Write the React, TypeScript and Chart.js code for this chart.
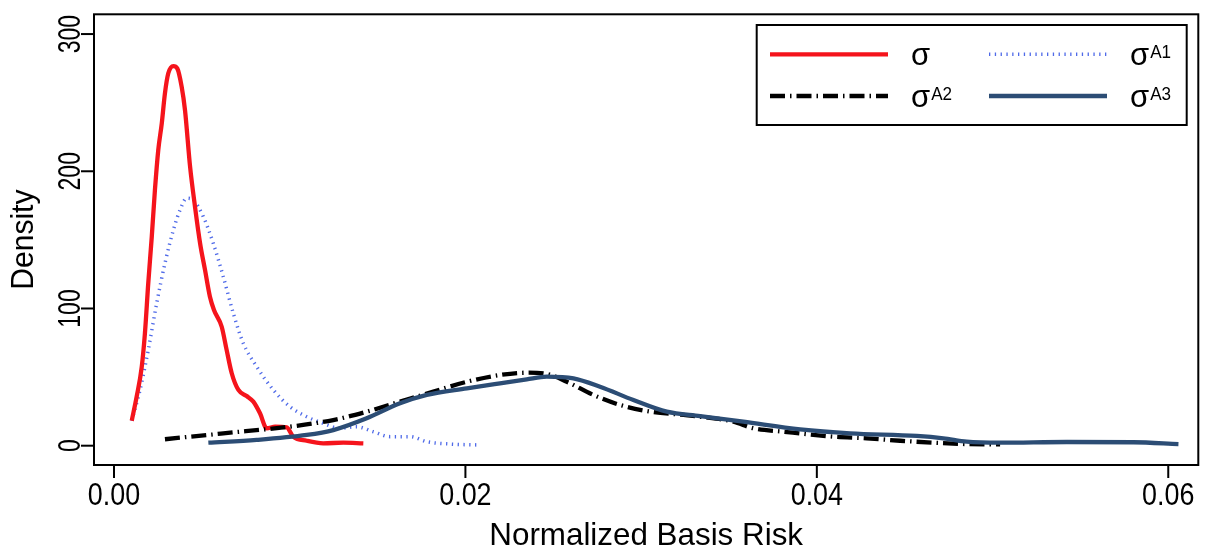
import React, { useEffect, useRef } from "react";
import { Chart, registerables } from "chart.js";

Chart.register(...registerables);

// ---------- data ----------
const xTicks = [0, 0.02, 0.04, 0.06];
const xTickLabels = ["0.00", "0.02", "0.04", "0.06"];
const yTicks = [0, 100, 200, 300];
const yTickLabels = ["0", "100", "200", "300"];

const xTitle = "Normalized Basis Risk";
const yTitle = "Density";

const seriesBase = ["σ", "σ", "σ", "σ"];
const seriesSup = ["", "A1", "A2", "A3"];

const sigmaX = [0.00101, 0.00129, 0.00158, 0.00176, 0.00195, 0.00215, 0.00233, 0.00252, 0.00272, 0.0029, 0.00309, 0.00338, 0.0036, 0.00385, 0.00404, 0.00433, 0.00461, 0.0049, 0.00518, 0.00546, 0.00569, 0.00613, 0.00641, 0.0067, 0.00708, 0.00755, 0.00793, 0.00831, 0.00869, 0.00917, 0.00983, 0.0102, 0.01097, 0.01191, 0.01305, 0.01419];
const sigmaY = [18.2, 35.7, 57.6, 81.9, 118.4, 152.3, 186.4, 215.5, 235, 256.9, 271.4, 276.7, 275, 261.7, 244.7, 203.4, 174.2, 147.5, 128.1, 108.6, 98.9, 86.7, 69.8, 52.8, 40.6, 36.2, 32.1, 23.6, 12.7, 13.9, 13.4, 6.6, 3.6, 1.7, 2.2, 1.7];

const sigmaA1X = [0.00101, 0.00148, 0.00195, 0.00243, 0.0029, 0.00338, 0.00376, 0.00414, 0.00451, 0.00508, 0.00565, 0.00622, 0.00679, 0.00736, 0.00812, 0.00907, 0.01002, 0.01097, 0.01191, 0.01286, 0.01381, 0.01476, 0.01571, 0.01685, 0.0178, 0.01913, 0.02083];
const sigmaA1Y = [18.2, 40.6, 69.8, 103.8, 132.9, 157.2, 171.8, 180.3, 179, 167, 147.5, 123.2, 96.5, 74.6, 57.6, 40.6, 28.4, 21.1, 16.3, 12.7, 13.8, 10.2, 6.6, 6.6, 2.9, 1.2, 0.5];

const sigmaA2X = [0.0029, 0.00622, 0.01002, 0.01248, 0.01438, 0.01628, 0.01818, 0.02008, 0.02197, 0.02349, 0.02463, 0.02577, 0.02728, 0.0288, 0.03051, 0.03241, 0.03336, 0.03525, 0.03639, 0.0381, 0.04094, 0.04284, 0.04474, 0.04664, 0.04853, 0.05043];
const sigmaA2Y = [4.7, 9, 13.9, 18.7, 24.8, 32.1, 39.4, 46.6, 51.5, 53.2, 52.3, 46.6, 37, 29.7, 24.8, 22.4, 21.1, 17.5, 12.7, 10.2, 6.6, 5.4, 3.6, 2.2, 1.2, 1.0];

const sigmaA3X = [0.00537, 0.00812, 0.01097, 0.01248, 0.01438, 0.01628, 0.0178, 0.02008, 0.02197, 0.02349, 0.02463, 0.02615, 0.02766, 0.02956, 0.03146, 0.03336, 0.03582, 0.03905, 0.04189, 0.04569, 0.0472, 0.04853, 0.05043, 0.05423, 0.05802, 0.06058];
const sigmaA3Y = [2.2, 4.2, 7.8, 11.4, 20, 30.9, 37, 41.8, 45.5, 48.4, 50.3, 49.1, 43, 33.3, 24.8, 21.6, 17.5, 11.9, 9, 7.1, 5.4, 2.9, 2.2, 2.7, 2.5, 1.2];

const X_MIN = -0.001138;
const X_MAX = 0.06171;
const Y_MIN = -14.07;
const Y_MAX = 314.4;

const FONT = '"Liberation Sans", Arial, Helvetica, sans-serif';

const pts = (xs: number[], ys: number[]) => xs.map((x, i) => ({ x, y: ys[i] }));

function drawText(
  ctx: CanvasRenderingContext2D,
  s: string,
  x: number,
  y: number,
  size: number,
  sx: number,
  align: CanvasTextAlign,
  rot = 0
) {
  ctx.save();
  ctx.translate(x, y);
  if (rot) ctx.rotate(rot);
  ctx.scale(sx, 1);
  ctx.font = `${size}px ${FONT}`;
  ctx.textAlign = align;
  ctx.textBaseline = "alphabetic";
  ctx.fillStyle = "#000";
  ctx.fillText(s, 0, 0);
  ctx.restore();
}

const rAxesPlugin = {
  id: "rAxes",
  afterDatasetsDraw(chart: any) {
    const { ctx, chartArea: a, scales } = chart;
    ctx.save();
    ctx.setLineDash([]);
    ctx.strokeStyle = "#000";
    ctx.fillStyle = "#000";

    // box
    ctx.lineWidth = 2;
    ctx.strokeRect(a.left, a.top, a.right - a.left, a.bottom - a.top);

    // x ticks
    ctx.lineWidth = 2;
    xTicks.forEach((v, i) => {
      const px = scales.x.getPixelForValue(v);
      ctx.beginPath();
      ctx.moveTo(px, a.bottom);
      ctx.lineTo(px, a.bottom + 13);
      ctx.stroke();
      drawText(ctx, xTickLabels[i], px, a.bottom + 40, 32, 0.84, "center");
    });

    // y ticks
    yTicks.forEach((v, i) => {
      const py = scales.y.getPixelForValue(v);
      ctx.beginPath();
      ctx.moveTo(a.left - 13, py);
      ctx.lineTo(a.left, py);
      ctx.stroke();
      drawText(ctx, yTickLabels[i], a.left - 14, py, 32, 0.72, "center", -Math.PI / 2);
    });

    // titles
    drawText(ctx, xTitle, (a.left + a.right) / 2, a.bottom + 80, 32, 0.98, "center");
    drawText(ctx, yTitle, a.left - 61, (a.top + a.bottom) / 2, 32, 0.94, "center", -Math.PI / 2);

    // legend
    const lx = a.right - 441.6;
    const ly = a.top + 10.7;
    const lw = 430;
    const lh = 100;
    ctx.fillStyle = "#fff";
    ctx.fillRect(lx, ly, lw, lh);
    ctx.lineWidth = 2;
    ctx.strokeRect(lx, ly, lw, lh);
    const ds = chart.data.datasets;
    ds.forEach((d: any, i: number) => {
      const col = i % 2;
      const row = Math.floor(i / 2);
      const x0 = lx + 13.3 + col * 219;
      const y0 = ly + 29.3 + row * 41.7;
      ctx.save();
      ctx.strokeStyle = d.borderColor;
      ctx.lineWidth = d.borderWidth;
      ctx.setLineDash(d.borderDash || []);
      ctx.beginPath();
      ctx.moveTo(x0, y0);
      ctx.lineTo(x0 + 118, y0);
      ctx.stroke();
      ctx.restore();
      const tx = x0 + 141;
      drawText(ctx, seriesBase[i], tx, y0 + 10.7, 31, 1, "left");
      if (seriesSup[i]) {
        ctx.font = `31px ${FONT}`;
        const w = ctx.measureText(seriesBase[i]).width;
        drawText(ctx, seriesSup[i], tx + w + 1, y0 + 4, 18, 0.95, "left");
      }
    });
    ctx.restore();
  },
};

export default function App() {
  const ref = useRef<HTMLCanvasElement>(null);
  useEffect(() => {
    document.body.style.margin = "0";
    const canvas = ref.current!;
    const chart = new Chart(canvas, {
      type: "line",
      data: {
        datasets: [
          {
            label: "σ",
            data: pts(sigmaX, sigmaY),
            borderColor: "#f5141c",
            borderWidth: 4.3,
            order: 2,
          },
          {
            label: "σA1",
            data: pts(sigmaA1X, sigmaA1Y),
            borderColor: "rgba(60,90,230,0.9)",
            borderWidth: 3.5,
            borderDash: [1.3, 4.5],
            order: 3,
          },
          {
            label: "σA2",
            data: pts(sigmaA2X, sigmaA2Y),
            borderColor: "#000000",
            borderWidth: 4.3,
            borderDash: [15, 5, 1.5, 5],
            order: 1,
          },
          {
            label: "σA3",
            data: pts(sigmaA3X, sigmaA3Y),
            borderColor: "#2c4d75",
            borderWidth: 4.3,
            order: 0,
          },
        ],
      },
      options: {
        responsive: false,
        animation: false,
        devicePixelRatio: 1,
        layout: { padding: { left: 94, top: 14.3, right: 7.7, bottom: 88 } },
        scales: {
          x: { type: "linear", min: X_MIN, max: X_MAX, display: false },
          y: { type: "linear", min: Y_MIN, max: Y_MAX, display: false },
        },
        elements: {
          point: { radius: 0 },
          line: { cubicInterpolationMode: "monotone", borderCapStyle: "butt", borderJoinStyle: "round" },
        },
        plugins: { legend: { display: false }, tooltip: { enabled: false } },
      },
      plugins: [rAxesPlugin],
    } as any);
    return () => chart.destroy();
  }, []);
  return (
    <div style={{ position: "fixed", left: 0, top: 0, width: 1206, height: 553, background: "#fff" }}>
      <canvas ref={ref} width={1206} height={553} style={{ display: "block", width: 1206, height: 553 }} />
    </div>
  );
}
